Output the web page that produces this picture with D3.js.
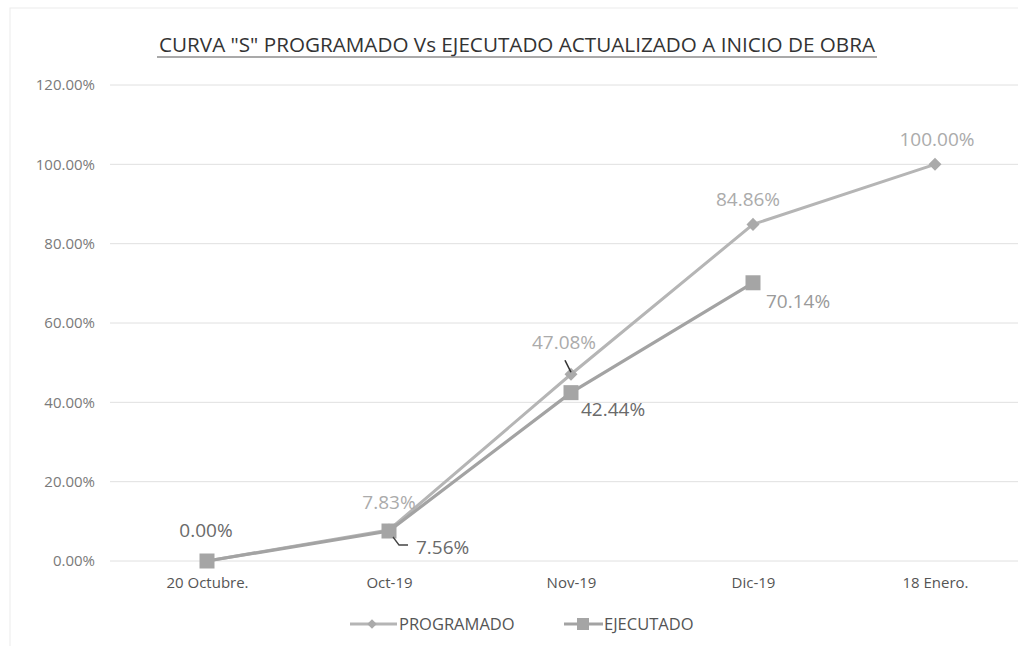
<html>
<head>
  <style>
    body { margin: 0; background: #fff; }
    text { font-family: "Open Sans", "DejaVu Sans", sans-serif; }
  </style>
  <script src="https://d3js.org/d3.v7.min.js"></script>
</head>
<body>
<div id="chart"></div>
<script type="text/javascript">
var categories = ["20 Octubre.", "Oct-19", "Nov-19", "Dic-19", "18 Enero."];
var programado = [0, 7.83, 47.08, 84.86, 100];
var ejecutado = [0, 7.56, 42.44, 70.14];
var yTicks = [0, 20, 40, 60, 80, 100, 120];
var seriesNames = ["PROGRAMADO", "EJECUTADO"];

// label offsets per point (dx, dy from marker)
var progLabels = [null, [0, -28], [-7, -32], [-5, -25], [2, -25]];
var ejecLabels = [[-1, -31], [27, 16], [10, 17], [13, 19]];

var W = 1018, H = 646;
var svg = d3.select("#chart").append("svg")
    .attr("width", W).attr("height", H);

svg.append("rect")
    .attr("x", 10).attr("y", 8).attr("width", W).attr("height", H)
    .attr("fill", "none").attr("stroke", "#ececec");

var x = d3.scalePoint().domain(categories).range([116, 1026]).padding(0.5);
var y = d3.scaleLinear().domain([0, 120]).range([561, 85]);

// gridlines
svg.append("g").selectAll("line")
    .data(yTicks).enter().append("line")
    .attr("x1", 110).attr("x2", W)
    .attr("y1", function(d) { return y(d); })
    .attr("y2", function(d) { return y(d); })
    .attr("stroke", "#e0e0e0").attr("stroke-width", 1);

// y axis labels
var yAxis = d3.axisLeft(y).tickValues(yTicks).tickSize(0).tickPadding(0)
    .tickFormat(function(d) { return d.toFixed(2) + "%"; });
svg.append("g").attr("transform", "translate(95,0)").call(yAxis)
    .call(function(g) { g.select(".domain").remove(); })
    .selectAll("text")
      .attr("font-size", 15).attr("fill", "#7a7a7a")
      .style("font-family", "'Open Sans', sans-serif");

// x axis labels
var xAxis = d3.axisBottom(x).tickSize(0).tickPadding(0);
svg.append("g").attr("transform", "translate(0,577)").call(xAxis)
    .call(function(g) { g.select(".domain").remove(); })
    .selectAll("text")
      .attr("font-size", 15).attr("fill", "#555")
      .style("font-family", "'Open Sans', sans-serif");

// title
svg.append("text")
    .attr("x", 517).attr("y", 52)
    .attr("text-anchor", "middle")
    .attr("font-size", 20.5).attr("fill", "#333")
    .attr("textLength", 716).attr("lengthAdjust", "spacingAndGlyphs")
    .style("font-family", "'Open Sans', sans-serif")
    .text('CURVA "S" PROGRAMADO Vs EJECUTADO ACTUALIZADO A INICIO DE OBRA');
svg.append("line")
    .attr("x1", 157).attr("x2", 877).attr("y1", 57).attr("y2", 57)
    .attr("stroke", "#555").attr("stroke-width", 1.2);

var line = d3.line()
    .x(function(d, i) { return x(categories[i]); })
    .y(function(d) { return y(d); });

var progColor = "#b5b5b5", ejecColor = "#a3a3a3";

svg.append("path").datum(programado)
    .attr("d", line).attr("fill", "none")
    .attr("stroke", progColor).attr("stroke-width", 3);
svg.append("path").datum(ejecutado)
    .attr("d", line).attr("fill", "none")
    .attr("stroke", ejecColor).attr("stroke-width", 3.2);

// markers
svg.append("g").selectAll("path")
    .data(programado).enter().append("path")
    .attr("transform", function(d, i) { return "translate(" + x(categories[i]) + "," + y(d) + ") rotate(45)"; })
    .attr("d", d3.symbol().type(d3.symbolSquare).size(85))
    .attr("fill", "#aaa");
svg.append("g").selectAll("rect")
    .data(ejecutado).enter().append("rect")
    .attr("x", function(d, i) { return x(categories[i]) - 7.5; })
    .attr("y", function(d) { return y(d) - 7.5; })
    .attr("width", 15).attr("height", 15)
    .attr("fill", "#a5a5a5");

// leader lines
svg.append("path")
    .attr("d", "M" + (x(categories[1]) + 4) + "," + (y(ejecutado[1]) + 6) + " l6,8 l9,0")
    .attr("fill", "none").attr("stroke", "#444").attr("stroke-width", 1.3);
svg.append("path")
    .attr("d", "M" + (x(categories[2]) - 6) + "," + (y(programado[2]) - 14) + " l6,12")
    .attr("fill", "none").attr("stroke", "#333").attr("stroke-width", 1.6);

// data labels
svg.append("g").selectAll("text")
    .data(programado).enter()
    .filter(function(d, i) { return progLabels[i] != null; })
    .append("text")
    .attr("x", function(d) { var i = programado.indexOf(d); return x(categories[i]) + progLabels[i][0]; })
    .attr("y", function(d) { var i = programado.indexOf(d); return y(d) + progLabels[i][1]; })
    .attr("text-anchor", "middle")
    .attr("dy", "0.35em")
    .attr("font-size", 19).attr("fill", "#ababab")
    .text(function(d) { return d.toFixed(2) + "%"; });

svg.append("g").selectAll("text")
    .data(ejecutado).enter().append("text")
    .attr("x", function(d, i) { return x(categories[i]) + ejecLabels[i][0]; })
    .attr("y", function(d, i) { return y(d) + ejecLabels[i][1]; })
    .attr("text-anchor", function(d, i) { return i == 0 ? "middle" : "start"; })
    .attr("dy", "0.35em")
    .attr("font-size", 19)
    .attr("fill", function(d, i) { return i == 3 ? "#9a9a9a" : "#6a6a6a"; })
    .text(function(d) { return d.toFixed(2) + "%"; });

// legend
var legend = svg.append("g").attr("transform", "translate(0,624)");
legend.append("line").attr("x1", 350).attr("x2", 397).attr("y1", 0).attr("y2", 0)
    .attr("stroke", progColor).attr("stroke-width", 3);
legend.append("path").attr("transform", "translate(372,0) rotate(45)")
    .attr("d", d3.symbol().type(d3.symbolSquare).size(45)).attr("fill", "#aaa");
legend.append("text").attr("x", 399).attr("y", 0).attr("dy", "0.35em")
    .attr("font-size", 16.5).attr("fill", "#555").text(seriesNames[0]);
legend.append("line").attr("x1", 564).attr("x2", 603).attr("y1", 0).attr("y2", 0)
    .attr("stroke", ejecColor).attr("stroke-width", 3);
legend.append("rect").attr("x", 577).attr("y", -6).attr("width", 12).attr("height", 12)
    .attr("fill", "#a5a5a5");
legend.append("text").attr("x", 604).attr("y", 0).attr("dy", "0.35em")
    .attr("font-size", 16.5).attr("fill", "#555").text(seriesNames[1]);
</script>
</body>
</html>
